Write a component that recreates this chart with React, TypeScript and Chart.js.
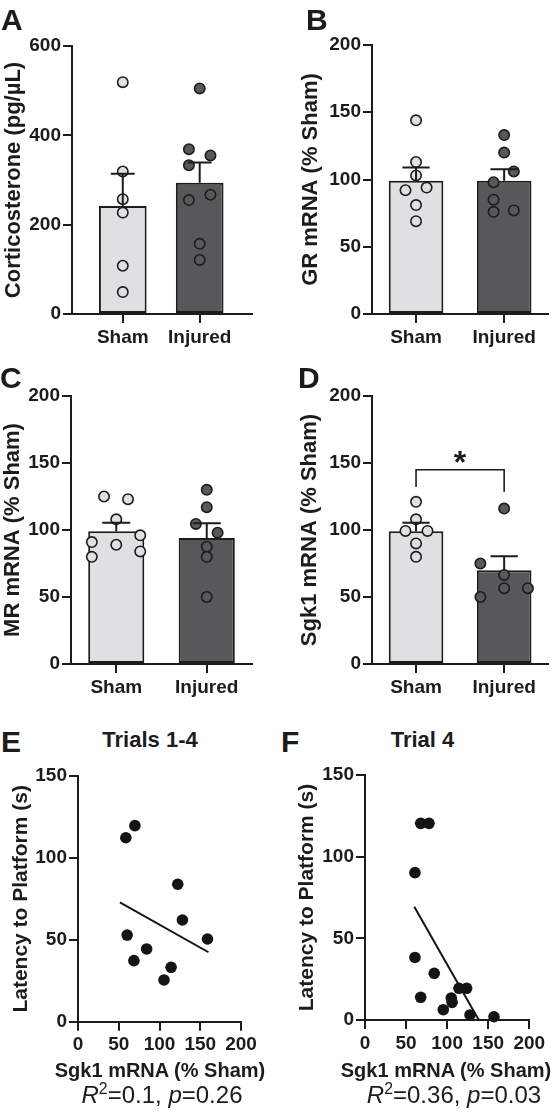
import React, { useEffect, useRef } from 'react';
import { Chart, registerables } from 'chart.js';

Chart.register(...registerables);

const FONT = '"Liberation Sans", Arial, Helvetica, sans-serif';
const INK = '#1c1c1c';
const LIGHT = '#dfe0e2';
const DARK = '#58585b';

const groups = ['Sham', 'Injured'];

// ---- Panel A: Corticosterone (pg/µL)
const cortSham = [519, 319, 257, 227, 108, 49];
const cortShamJitter = [0, 0, 0, 0, 0, 0];
const cortInjured = [505, 369, 355, 333, 267, 255, 157, 121];
const cortInjuredJitter = [0, -0.14, 0.14, -0.14, 0.14, -0.14, 0, 0];
const cortMean = [242, 294];
const cortSem = [72, 45];
const cortTicks = [0, 200, 400, 600];

// ---- Panel B: GR mRNA (% Sham)
const grSham = [144, 113, 103, 92, 94, 81, 69];
const grShamJitter = [0, 0, 0, -0.12, 0.12, 0, 0];
const grInjured = [133, 120, 106, 98, 85, 76, 77];
const grInjuredJitter = [0, 0, 0.11, -0.12, -0.12, -0.12, 0.11];
const grMean = [99, 99];
const grSem = [10, 8.6];

// ---- Panel C: MR mRNA (% Sham)
const mrSham = [125, 123, 108, 91, 96, 89, 80, 84];
const mrShamJitter = [-0.135, 0.13, 0, -0.27, 0.265, 0, -0.27, 0.265];
const mrInjured = [130, 117, 104.5, 98, 87.5, 80, 50];
const mrInjuredJitter = [0, 0, -0.12, 0.12, 0, 0, 0];
const mrMean = [99, 94];
const mrSem = [6.5, 11];

// ---- Panel D: Sgk1 mRNA (% Sham)
const sgkSham = [121, 108, 99.3, 99.3, 90, 80];
const sgkShamJitter = [0, 0, -0.12, 0.13, 0, 0];
const sgkInjured = [116, 75, 66.5, 56.6, 50, 56.6];
const sgkInjuredJitter = [0, -0.27, 0, 0, -0.27, 0.27];
const sgkMean = [99, 70];
const sgkSem = [6.5, 10.5];
const sgkBracket = [132, 145, 128.5]; // left foot, bracket level, right foot
const sgkStarLevel = 156;

const mrnaTicks = [0, 50, 100, 150, 200];

// ---- Panel E: Trials 1-4
const eSgk1 = [58.7, 69.8, 122.4, 60.3, 128.1, 158.9, 84.2, 68.6, 114.2, 105.5];
const eLatency = [112.3, 119.7, 83.9, 52.9, 62.1, 50.5, 44.4, 37.3, 33.2, 25.5];
const eFitX = [51.4, 160.1];
const eFitY = [72.9, 42.4];

// ---- Panel F: Trial 4
const fSgk1 = [67.8, 77.9, 60.8, 60.8, 84.3, 67.8, 95.3, 105, 106, 114.4, 123.7, 127.8, 157];
const fLatency = [120.4, 120.4, 90.2, 38.3, 28.6, 13.9, 6.3, 13.5, 10.8, 19.4, 19.4, 3.1, 2];
const fFitX = [60, 138.5];
const fFitY = [69.4, 0];

const latencyTicks = [0, 50, 100, 150];
const sgkAxisTicks = [0, 50, 100, 150, 200];

const tickFont = { family: FONT, size: 19, weight: 'bold' as const };

type Layout = {
  left: number; top: number; width: number; height: number;
  pad: { top: number; right: number; left: number; bottom: number };
  yWidth: number; xHeight: number; titlePad: number;
};

function axisCommon() {
  return {
    grid: { display: true, drawOnChartArea: false, drawTicks: true, tickLength: 9, color: INK, lineWidth: 2, offset: false },
    border: { display: true, color: INK, width: 2 },
  };
}

type BarSpec = {
  sham: number[]; shamJitter: number[]; injured: number[]; injuredJitter: number[];
  mean: number[]; sem: number[]; yTicks: number[]; yTitle: string; xRange: [number, number];
  layout: Layout; bracket?: number[]; starLevel?: number;
};

function barConfig(s: BarSpec): any {
  const errorBars = {
    id: 'errorBars',
    afterDatasetsDraw(chart: any) {
      const meta = chart.getDatasetMeta(0);
      const y = chart.scales.y;
      const ctx = chart.ctx;
      ctx.save();
      ctx.strokeStyle = INK;
      ctx.lineWidth = 2;
      meta.data.forEach((bar: any, i: number) => {
        const x = bar.x;
        const y0 = y.getPixelForValue(s.mean[i]);
        const y1 = y.getPixelForValue(s.mean[i] + s.sem[i]);
        const half = bar.width * 0.25;
        ctx.beginPath();
        ctx.moveTo(x, y0);
        ctx.lineTo(x, y1);
        ctx.moveTo(x - half, y1);
        ctx.lineTo(x + half, y1);
        ctx.stroke();
      });
      if (s.bracket) {
        const xs = chart.scales.x;
        const xL = xs.getPixelForValue(1);
        const xR = xs.getPixelForValue(2);
        ctx.lineWidth = 1.6;
        ctx.beginPath();
        ctx.moveTo(xL, y.getPixelForValue(s.bracket[0]));
        ctx.lineTo(xL, y.getPixelForValue(s.bracket[1]));
        ctx.lineTo(xR, y.getPixelForValue(s.bracket[1]));
        ctx.lineTo(xR, y.getPixelForValue(s.bracket[2]));
        ctx.stroke();
        const fs = 32;
        ctx.font = `bold ${fs}px ${FONT}`;
        ctx.fillStyle = INK;
        ctx.textAlign = 'center';
        ctx.textBaseline = 'alphabetic';
        ctx.fillText('*', (xL + xR) / 2, y.getPixelForValue(s.starLevel as number) + fs * 0.57);
      }
      ctx.restore();
    },
  };
  const L = s.layout;
  return {
    type: 'bar',
    data: {
      datasets: [
        {
          type: 'bar',
          data: groups.map((_, i) => ({ x: i + 1, y: s.mean[i] })),
          backgroundColor: [LIGHT, DARK],
          borderColor: INK,
          borderWidth: 2,
          borderSkipped: false,
          barPercentage: 0.62,
          categoryPercentage: 1,
          order: 3,
        },
        {
          type: 'scatter',
          data: s.sham.map((v, i) => ({ x: 1 + s.shamJitter[i], y: v })),
          backgroundColor: LIGHT,
          borderColor: INK,
          borderWidth: 1.6,
          pointRadius: 5.2,
          clip: false,
          order: 1,
        },
        {
          type: 'scatter',
          data: s.injured.map((v, i) => ({ x: 2 + s.injuredJitter[i], y: v })),
          backgroundColor: DARK,
          borderColor: INK,
          borderWidth: 1.6,
          pointRadius: 5.2,
          clip: false,
          order: 1,
        },
      ],
    },
    options: {
      animation: false,
      responsive: false,
      events: [],
      layout: { padding: L.pad },
      plugins: { legend: { display: false }, tooltip: { enabled: false }, title: { display: false } },
      scales: {
        x: {
          type: 'linear',
          min: s.xRange[0],
          max: s.xRange[1],
          offset: false,
          afterBuildTicks: (sc: any) => { sc.ticks = groups.map((_, i) => ({ value: i + 1 })); },
          afterFit: (sc: any) => { sc.height = L.xHeight; },
          ticks: { callback: (v: any) => groups[Math.round(Number(v)) - 1], font: tickFont, color: INK, padding: 3, maxRotation: 0, autoSkip: false },
          ...axisCommon(),
        },
        y: {
          type: 'linear',
          min: s.yTicks[0],
          max: s.yTicks[s.yTicks.length - 1],
          afterBuildTicks: (sc: any) => { sc.ticks = s.yTicks.map((v) => ({ value: v })); },
          afterFit: (sc: any) => { sc.width = L.yWidth; },
          ticks: { callback: (v: any) => String(v), font: tickFont, color: INK, padding: 2 },
          title: { display: true, text: s.yTitle, color: INK, font: { family: FONT, size: 22, weight: 'bold' }, padding: { top: L.titlePad, bottom: 0 } },
          ...axisCommon(),
        },
      },
    },
    plugins: [errorBars],
  };
}

type ScatterSpec = { xs: number[]; ys: number[]; fitX: number[]; fitY: number[]; layout: Layout };

function scatterConfig(s: ScatterSpec): any {
  const L = s.layout;
  return {
    type: 'scatter',
    data: {
      datasets: [
        {
          type: 'scatter',
          data: s.xs.map((x, i) => ({ x, y: s.ys[i] })),
          backgroundColor: '#141414',
          borderColor: '#141414',
          borderWidth: 0,
          pointRadius: 5.8,
          clip: false,
          order: 1,
        },
        {
          type: 'line',
          data: s.fitX.map((x, i) => ({ x, y: s.fitY[i] })),
          borderColor: '#141414',
          borderWidth: 2,
          pointRadius: 0,
          fill: false,
          tension: 0,
          clip: false,
          order: 2,
        },
      ],
    },
    options: {
      animation: false,
      responsive: false,
      events: [],
      layout: { padding: L.pad },
      plugins: { legend: { display: false }, tooltip: { enabled: false } },
      scales: {
        x: {
          type: 'linear',
          min: sgkAxisTicks[0],
          max: sgkAxisTicks[sgkAxisTicks.length - 1],
          afterBuildTicks: (sc: any) => { sc.ticks = sgkAxisTicks.map((v) => ({ value: v })); },
          afterFit: (sc: any) => { sc.height = L.xHeight; },
          ticks: { callback: (v: any) => String(v), font: tickFont, color: INK, padding: 3, maxRotation: 0, autoSkip: false },
          ...axisCommon(),
        },
        y: {
          type: 'linear',
          min: latencyTicks[0],
          max: latencyTicks[latencyTicks.length - 1],
          afterBuildTicks: (sc: any) => { sc.ticks = latencyTicks.map((v) => ({ value: v })); },
          afterFit: (sc: any) => { sc.width = L.yWidth; },
          ticks: { callback: (v: any) => String(v), font: tickFont, color: INK, padding: 2 },
          title: { display: true, text: 'Latency to Platform (s)', color: INK, font: { family: FONT, size: 21, weight: 'bold' }, padding: { top: L.titlePad, bottom: 0 } },
          ...axisCommon(),
        },
      },
    },
  };
}

const layoutA: Layout = { left: 0, top: 0, width: 277, height: 360, pad: { top: 46, right: 25, left: 0, bottom: 0 }, yWidth: 72, xHeight: 46, titlePad: 1 };
const layoutB: Layout = { left: 277, top: 0, width: 278, height: 360, pad: { top: 45, right: 2, left: 0, bottom: 0 }, yWidth: 95, xHeight: 46, titlePad: 21 };
const layoutC: Layout = { left: 0, top: 360, width: 277, height: 350, pad: { top: 36, right: 25, left: 0, bottom: 0 }, yWidth: 71, xHeight: 46, titlePad: 0 };
const layoutD: Layout = { left: 277, top: 360, width: 278, height: 350, pad: { top: 36, right: 2, left: 0, bottom: 0 }, yWidth: 95, xHeight: 46, titlePad: 20 };
const layoutE: Layout = { left: 0, top: 760, width: 277, height: 300, pad: { top: 16, right: 36, left: 0, bottom: 0 }, yWidth: 78, xHeight: 38.3, titlePad: 9 };
const layoutF: Layout = { left: 277, top: 760, width: 278, height: 300, pad: { top: 15, right: 25.7, left: 0, bottom: 0 }, yWidth: 88, xHeight: 40, titlePad: 18 };

function ChartCanvas({ layout, build }: { layout: Layout; build: () => any }) {
  const ref = useRef<HTMLCanvasElement>(null);
  useEffect(() => {
    const chart = new Chart(ref.current as HTMLCanvasElement, build());
    return () => chart.destroy();
  }, []);
  return (
    <canvas
      ref={ref}
      width={layout.width}
      height={layout.height}
      style={{ position: 'absolute', left: layout.left, top: layout.top, width: layout.width, height: layout.height }}
    />
  );
}

function Label({ text, x, baseline, size, bold = true, align = 'left', children }: any) {
  const top = baseline - 0.8465 * size;
  const common: any = {
    position: 'absolute',
    top,
    fontFamily: FONT,
    fontSize: size,
    lineHeight: `${size}px`,
    fontWeight: bold ? 'bold' : 'normal',
    color: INK,
    whiteSpace: 'nowrap',
  };
  if (align === 'center') {
    return <div style={{ ...common, left: x - 200, width: 400, textAlign: 'center' }}>{children ?? text}</div>;
  }
  return <div style={{ ...common, left: x }}>{children ?? text}</div>;
}

export default function App() {
  return (
    <div style={{ position: 'absolute', left: 0, top: 0, width: 555, height: 1115, background: '#fff', overflow: 'hidden' }}>
      <ChartCanvas layout={layoutA} build={() => barConfig({ sham: cortSham, shamJitter: cortShamJitter, injured: cortInjured, injuredJitter: cortInjuredJitter, mean: cortMean, sem: cortSem, yTicks: cortTicks, yTitle: 'Corticosterone (pg/\u00b5L)', xRange: [0.34, 2.68], layout: layoutA })} />
      <ChartCanvas layout={layoutB} build={() => barConfig({ sham: grSham, shamJitter: grShamJitter, injured: grInjured, injuredJitter: grInjuredJitter, mean: grMean, sem: grSem, yTicks: mrnaTicks, yTitle: 'GR mRNA (% Sham)', xRange: [0.5, 2.5], layout: layoutB })} />
      <ChartCanvas layout={layoutC} build={() => barConfig({ sham: mrSham, shamJitter: mrShamJitter, injured: mrInjured, injuredJitter: mrInjuredJitter, mean: mrMean, sem: mrSem, yTicks: mrnaTicks, yTitle: 'MR mRNA (% Sham)', xRange: [0.5, 2.5], layout: layoutC })} />
      <ChartCanvas layout={layoutD} build={() => barConfig({ sham: sgkSham, shamJitter: sgkShamJitter, injured: sgkInjured, injuredJitter: sgkInjuredJitter, mean: sgkMean, sem: sgkSem, yTicks: mrnaTicks, yTitle: 'Sgk1 mRNA (% Sham)', xRange: [0.5, 2.5], layout: layoutD, bracket: sgkBracket, starLevel: sgkStarLevel })} />
      <ChartCanvas layout={layoutE} build={() => scatterConfig({ xs: eSgk1, ys: eLatency, fitX: eFitX, fitY: eFitY, layout: layoutE })} />
      <ChartCanvas layout={layoutF} build={() => scatterConfig({ xs: fSgk1, ys: fLatency, fitX: fFitX, fitY: fFitY, layout: layoutF })} />

      <Label text="A" x={1} baseline={30} size={30} />
      <Label text="B" x={306} baseline={30} size={30} />
      <Label text="C" x={0} baseline={388} size={30} />
      <Label text="D" x={298} baseline={388} size={30} />
      <Label text="E" x={1} baseline={752} size={30} />
      <Label text="F" x={281} baseline={752} size={30} />

      <Label text="Trials 1-4" x={150} baseline={748} size={22} align="center" />
      <Label text="Trial 4" x={422.5} baseline={748} size={22} align="center" />

      <Label text="Sgk1 mRNA (% Sham)" x={160} baseline={1077} size={20} align="center" />
      <Label text="Sgk1 mRNA (% Sham)" x={446} baseline={1077} size={20} align="center" />

      <Label x={162} baseline={1103.5} size={24} bold={false} align="center">
        <i>R</i><span style={{ fontSize: '0.66em', position: 'relative', top: '-0.6em' }}>2</span>=0.1, <i>p</i>=0.26
      </Label>
      <Label x={454} baseline={1103.5} size={24} bold={false} align="center">
        <i>R</i><span style={{ fontSize: '0.66em', position: 'relative', top: '-0.6em' }}>2</span>=0.36, <i>p</i>=0.03
      </Label>
    </div>
  );
}
